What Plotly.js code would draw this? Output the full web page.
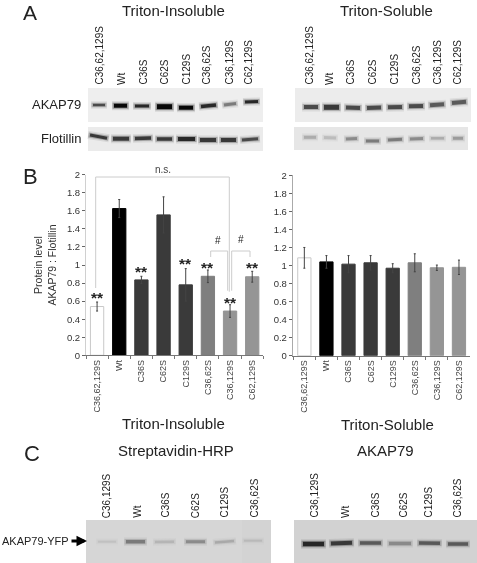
<!DOCTYPE html>
<html>
<head>
<meta charset="utf-8">
<script src="https://cdn.plot.ly/plotly-3.0.1.min.js"></script>
<style>html,body{margin:0;padding:0;background:#fff}#chart{width:477px;height:563px;filter:blur(0.4px)}</style>
</head>
<body>
<div id="chart"></div>
<script>
// Chart values
const mutants = ['C36,62,129S','Wt','C36S','C62S','C129S','C36,62S','C36,129S','C62,129S'];
const mutantsC = ['C36,129S','Wt','C36S','C62S','C129S','C36,62S'];
const insolubleValues = [0.54,1.625,0.835,1.555,0.78,0.875,0.49,0.87];
const insolubleErrors = [0.05,0.1,0.04,0.2,0.18,0.07,0.07,0.06];
const solubleValues = [1.085,1.04,1.015,1.03,0.97,1.03,0.975,0.98];
const solubleErrors = [0.115,0.07,0.095,0.08,0.05,0.1,0.03,0.08];
const starIndex = [0,2,4,5,6,7];
const starLevels = [0.675,0.96,1.05,1.01,0.62,1.0];
const barFills = ['#ffffff','#000000','#3a3a3a','#3a3a3a','#3a3a3a','#7f7f7f','#959595','#959595'];
const barEdges = ['#c8c8c8','#000000','#3a3a3a','#3a3a3a','#3a3a3a','#7f7f7f','#959595','#959595'];

// Blot bands: [x0, x1, y0, y1, thickness, gray] on the page grid
const bandsAkapInsol = [[92,106,105,105,2.5,'#444'],[113,128,105.7,105.7,4,'#000'],[134,150,106,106,3,'#222'],[156,173,106.7,106.7,5,'#000'],[178,194,107.7,107.7,4,'#000'],[200,217,106.5,105,3.5,'#222'],[223,237,105,103.5,3,'#777'],[244,259,102,101.5,3,'#222']];
const bandsFloInsol = [[89,108,135,138.3,3,'#333'],[112,130,138.7,138.7,4,'#333'],[134,152,138.5,138,3.5,'#333'],[156,173,139,139,3.5,'#333'],[177,196,139,139,4,'#222'],[199,217,140,140,4,'#333'],[220,237,140,140,4,'#333'],[241,259,140,138.7,3,'#444']];
const bandsAkapSol = [[303,319,107,107,4,'#444'],[323,340,107.3,107.3,5,'#333'],[345,361,107.5,108,4,'#444'],[366,382,108,107.5,4,'#444'],[387,403,107.3,107,4,'#444'],[408,424,106.3,106,4,'#444'],[429,445,105.2,104.3,4,'#555'],[451,467,103,101.8,4,'#555']];
const bandsFloSol = [[303,317,137.3,137.3,3,'#aaa'],[323,337,137.5,138,3,'#bbb'],[345,358,139,138.5,3,'#888'],[365,380,141,141,3,'#777'],[387,403,140,139.3,3,'#777'],[409,424,138.9,138.5,3,'#888'],[430,445,138.3,138.3,2.5,'#aaa'],[452,464,138.3,138.3,3,'#999']];
const bandsBiotin = [[97,117,541.7,541.7,2,'#c0c0c0'],[125,146,541.7,541.7,3.5,'#777'],[154,175,542,541.7,2.5,'#b4b4b4'],[185,206,541.7,541.7,3,'#888'],[214,235,542.5,541,2.5,'#a8a8a8'],[243,263,540.7,540.7,2,'#b8b8b8']];
const bandsAkapC = [[302,325,544,544,4.5,'#222'],[330,353,543.5,542.7,4,'#333'],[359,382,543,543,3.5,'#555'],[388,412,543.5,543.5,3.5,'#888'],[418,441,543,543.3,3.5,'#555'],[447,469,544,544,3.5,'#555']];
const blotPanels = [[88,263,88,122,'#eeeeee'],[88,263,127,151,'#ebebeb'],[295,471,88,122,'#ececec'],[294,468,127,150,'#e6e6e6'],[86,271,520,563,'#d6d6d6'],[242,271,520,563,'#d3d3d3'],[294,477,520,563,'#d2d2d2']];

// Significance brackets on the page grid
const bracketNsX = [95.7,95.7,229.3,229.3], bracketNsY = [288,177,177,291.7];
const bracketHashLX = [210.7,210.7,227.7,227.7], bracketHashLY = [257,251,251,290.7];
const bracketHashRX = [231.7,231.7,250,250], bracketHashRY = [290.7,251,251,257];

const W = 477, H = 563;
const font = 'Liberation Sans, Arial, sans-serif';
const traces = [];

function bars(vals, errs, xa, ya){
  traces.push({type:'bar', x:mutants, y:vals, xaxis:xa, yaxis:ya,
    marker:{color:barFills, line:{color:barEdges, width:1}}, width:0.6,
    error_y:{type:'data', array:errs, visible:true, color:'#444', thickness:1, width:1},
    hoverinfo:'skip', showlegend:false});
}
bars(insolubleValues, insolubleErrors, 'x', 'y');
bars(solubleValues, solubleErrors, 'x2', 'y2');

function line(xs, ys, color, width, opacity){
  traces.push({type:'scatter', mode:'lines', x:xs, y:ys, xaxis:'x3', yaxis:'y3',
    line:{color:color, width:width}, opacity:opacity===undefined?1:opacity,
    hoverinfo:'skip', showlegend:false});
}
[bandsAkapInsol,bandsFloInsol,bandsAkapSol,bandsFloSol,bandsBiotin,bandsAkapC].forEach(set=>{
  set.forEach(b=>{
    line([b[0]-1,b[1]+1],[b[2],b[3]],b[5],b[4]+5,0.10);
    line([b[0]-0.5,b[1]+0.5],[b[2],b[3]],b[5],b[4]+2,0.3);
    line([b[0]+1,b[1]-1],[b[2],b[3]],b[5],b[4],0.95);
  });
});
line(bracketNsX,bracketNsY,'#cccccc',1);
line(bracketHashLX,bracketHashLY,'#cccccc',1);
line(bracketHashRX,bracketHashRY,'#cccccc',1);

const shapes = blotPanels.map(p=>({type:'rect',xref:'x3',yref:'y3',x0:p[0],x1:p[1],y0:p[2],y1:p[3],fillcolor:p[4],line:{width:0},layer:'below'}));

function label(x,y,text,size,extra){
  return Object.assign({xref:'x3',yref:'y3',x:x,y:y,text:text,showarrow:false,
    font:{family:font,size:size,color:'#222'},xanchor:'center',yanchor:'middle'},extra||{});
}
const annotations = [];
annotations.push(label(173,10,'Triton-Insoluble',15),label(386,10,'Triton-Soluble',15));
annotations.push(label(173,423,'Triton-Insoluble',15),label(387,424,'Triton-Soluble',15));
annotations.push(label(176,450,'Streptavidin-HRP',15),label(385,450,'AKAP79',15));
annotations.push(label(30,12,'A',21),label(30,176,'B',22),label(32,453,'C',22));
annotations.push(label(83,104,'AKAP79',13,{xanchor:'right'}),label(83,138,'Flotillin',13,{xanchor:'right'}));
annotations.push(label(0,541,'AKAP79-YFP',11,{xanchor:'left'}));
annotations.push(label(163,169,'n.s.',10,{font:{family:font,size:10,color:'#444'}}));
annotations.push(label(218,240,'#',10),label(240.7,239,'#',10));
annotations.push({xref:'x3',yref:'y3',axref:'x3',ayref:'y3',x:87,y:541,ax:70,ay:541,showarrow:true,arrowhead:2,arrowsize:0.7,arrowwidth:3,arrowcolor:'#000',text:''});

const topInsolX = [99,121,143,164,186,206,229,248];
const topSolX = [309,329,350,372,394,416,437,457];
const lowInsolX = [106.7,136.7,165,195.7,224,254];
const lowSolX = [314,345,375,403,428,457];
mutants.forEach((m,i)=>{
  annotations.push(label(topInsolX[i],87,m,10,{textangle:-90,yanchor:'bottom'}));
  annotations.push(label(topSolX[i],87,m,10,{textangle:-90,yanchor:'bottom'}));
});
mutantsC.forEach((m,i)=>{
  annotations.push(label(lowInsolX[i],520,m,10,{textangle:-90,yanchor:'bottom'}));
  annotations.push(label(lowSolX[i],520,m,10,{textangle:-90,yanchor:'bottom'}));
});
starIndex.forEach((k,i)=>{
  annotations.push({xref:'x',yref:'y',x:k,y:starLevels[i],text:'<b>**</b>',showarrow:false,
    font:{family:font,size:15.5,color:'#222'},xanchor:'center',yanchor:'middle',yshift:-3});
});

function xAxis(domain, anchor){
  return {domain:domain.map(d=>d/W), anchor:anchor, type:'category', range:[-0.5,7.5],
    tickson:'boundaries', tickangle:-90,
    tickfont:{family:font,size:9,color:'#444'}, showgrid:false, zeroline:false,
    showline:true, linecolor:'#777', linewidth:1, ticks:'outside', ticklen:3, tickcolor:'#777', tickwidth:1, fixedrange:true};
}
function yAxis(bottom, top, anchor, lineColor, lineWidth){
  return {domain:[(H-bottom)/H,(H-top)/H], anchor:anchor, range:[0,2], dtick:0.2, tick0:0,
    tickfont:{family:font,size:9.5,color:'#333'}, showgrid:false, zeroline:false,
    showline:true, linecolor:lineColor, linewidth:lineWidth, ticks:'outside', ticklen:3,
    tickcolor:'#666', tickwidth:1, fixedrange:true};
}
const yLeft = yAxis(355.3,174.7,'x','#d0d0d0',1);
yLeft.title = {text:'Protein level<br>AKAP79 : Flotillin', font:{family:font,size:10.5,color:'#333'}, standoff:8};

const layout = {
  width:W, height:H, margin:{l:0,r:0,t:0,b:0}, paper_bgcolor:'#fff', plot_bgcolor:'rgba(0,0,0,0)',
  showlegend:false, shapes:shapes, annotations:annotations,
  xaxis:xAxis([86,263.3],'y'), yaxis:yLeft,
  xaxis2:xAxis([293.3,470],'y2'), yaxis2:yAxis(355.7,175.3,'x2','#aaaaaa',1.5),
  xaxis3:{domain:[0,1],anchor:'y3',range:[0,W],visible:false,fixedrange:true},
  yaxis3:{domain:[0,1],anchor:'x3',range:[H,0],visible:false,fixedrange:true}
};
Plotly.newPlot('chart',traces,layout,{displayModeBar:false,staticPlot:true});
</script>
</body>
</html>
